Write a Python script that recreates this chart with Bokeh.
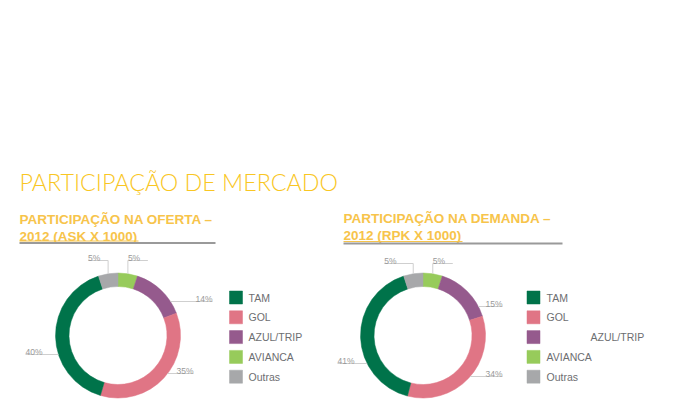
import math
from bokeh.plotting import figure
from bokeh.models import Range1d
from bokeh.core.properties import value
from bokeh.embed import file_html
from bokeh.resources import INLINE

# ---------------- data ----------------
categories = ["TAM", "GOL", "AZUL/TRIP", "AVIANCA", "Outras"]
oferta_pct = [40, 35, 14, 5, 5]
demanda_pct = [41, 34, 15, 5, 5]
colors = ["#00734A", "#E07585", "#955A8D", "#97CB5B", "#A7A8AA"]
draw_order = ["AVIANCA", "AZUL/TRIP", "GOL", "TAM", "Outras"]  # clockwise from 12 o'clock

title_text = "PARTICIPAÇÃO DE MERCADO"
sub_oferta = ["PARTICIPAÇÃO NA OFERTA –", "2012 (ASK X 1000)"]
sub_demanda = ["PARTICIPAÇÃO NA DEMANDA –", "2012 (RPK X 1000)"]

# ---------------- layout / style (pixels, y down) ----------------
W, H = 680, 419
R_OUT, R_IN = 62.5, 49
TITLE_Y = 181
TEXT_FONT = value("Liberation Sans")
YELLOW_T = "#F9C623"
YELLOW_S = "#F7C44B"
GRAY_TXT = "#999999"
LEAD = "#CFCFCF"

panels = [
    dict(values=oferta_pct, sub=sub_oferta, cx=117.5, cy=335, sub_x=19, sub_y=(219, 235.5), rule=(19, 215, 242.5),
         under=(19, 138, 240.5),
         leg_x=235.5, leg_tx=248, leg_shift={},
         leaders={"TAM": ("side", 19, -92.5), "GOL": ("side", 38, 75.5), "AZUL/TRIP": ("side", -34, 94.5),
                  "AVIANCA": ("top", -75, 20), "Outras": ("top", -75, -20)}),
    dict(values=demanda_pct, sub=sub_demanda, cx=422.5, cy=335, sub_x=343, sub_y=(218, 234.5), rule=(343, 562, 243),
         under=(343, 462, 241),
         leg_x=533, leg_tx=546, leg_shift={"AZUL/TRIP": 44},
         leaders={"TAM": ("side", 28, -85.5), "GOL": ("side", 41, 79.5), "AZUL/TRIP": ("side", -29, 79.5),
                  "AVIANCA": ("top", -72, 20), "Outras": ("top", -72, -29)}),
]
LEG_Y0, LEG_DY = 297, 19.8


def Y(py):
    return H - py


p = figure(width=W, height=H, x_range=Range1d(0, W), y_range=Range1d(0, H),
           output_backend="svg", toolbar_location=None, min_border=0,
           x_axis_location=None, y_axis_location=None, outline_line_color=None)
p.xgrid.visible = False
p.ygrid.visible = False
p.background_fill_color = "white"
p.border_fill_color = "white"

# main title
p.text(x=[19], y=[Y(TITLE_Y)], text=[title_text], text_font=value("Lato Light, Lato"),
       text_font_size="23.3px", text_color=YELLOW_T, text_baseline="middle", text_align="left")

for pan in panels:
    vals = pan["values"]
    total = float(sum(vals))
    cx, cy = pan["cx"], pan["cy"]

    # subtitles
    for line, yy in zip(pan["sub"], pan["sub_y"]):
        p.text(x=[pan["sub_x"]], y=[Y(yy)], text=[line], text_font=TEXT_FONT, text_font_style="bold",
               text_font_size="13.5px", text_color=YELLOW_S, text_baseline="middle", text_align="left")
    ux0, ux1, uy = pan["under"]
    p.segment(x0=[ux0], y0=[Y(uy)], x1=[ux1], y1=[Y(uy)], line_color=YELLOW_S, line_width=1)
    x0, x1, ry = pan["rule"]
    p.segment(x0=[x0], y0=[Y(ry)], x1=[x1], y1=[Y(ry)], line_color="#9A9A9A", line_width=2)

    # donut
    cum = 0.0
    for name in draw_order:
        i = categories.index(name)
        v = vals[i]
        a0 = math.pi / 2 - 2 * math.pi * cum / total
        a1 = math.pi / 2 - 2 * math.pi * (cum + v) / total
        amid = (a0 + a1) / 2
        p.annular_wedge(x=[cx], y=[Y(cy)], inner_radius=R_IN, outer_radius=R_OUT,
                        start_angle=a0, end_angle=a1, direction="clock",
                        fill_color=colors[i], line_color=colors[i], line_width=0.5)
        cum += v

        label = f"{v}%"
        kind, dy, dx = pan["leaders"][name]
        if kind == "side":
            ly = cy + dy
            sx = cx + math.copysign(math.sqrt(R_OUT ** 2 - dy ** 2), dx)
            ex = cx + dx
            p.segment(x0=[sx], y0=[Y(ly)], x1=[ex], y1=[Y(ly)], line_color=LEAD, line_width=1)
            p.text(x=[ex], y=[Y(ly - 2.5)], text=[label], text_font=TEXT_FONT, text_font_size="8.5px",
                   text_color=GRAY_TXT, text_baseline="alphabetic",
                   text_align="right" if dx > 0 else "left")
        else:
            vx = cx + R_OUT * math.cos(amid)
            vy = cy - R_OUT * math.sin(amid)
            ly = cy + dy
            p.segment(x0=[vx], y0=[Y(vy)], x1=[vx], y1=[Y(ly)], line_color=LEAD, line_width=1)
            p.segment(x0=[vx], y0=[Y(ly)], x1=[vx + dx], y1=[Y(ly)], line_color=LEAD, line_width=1)
            p.text(x=[min(vx, vx + dx)], y=[Y(ly - 2.5)], text=[label], text_font=TEXT_FONT,
                   text_font_size="8.5px", text_color=GRAY_TXT, text_baseline="alphabetic", text_align="left")

    # legend
    for k, name in enumerate(categories):
        yy = LEG_Y0 + k * LEG_DY
        p.scatter(x=[pan["leg_x"]], y=[Y(yy)], marker="square", size=13,
                  fill_color=colors[k], line_color=colors[k], line_width=0.5)
        p.text(x=[pan["leg_tx"] + pan["leg_shift"].get(name, 0)], y=[Y(yy)], text=[name],
               text_font=TEXT_FONT, text_font_size="10.5px", text_color="#6D6E71",
               text_baseline="middle", text_align="left")

open("out.html", "w").write(file_html(p, INLINE))
